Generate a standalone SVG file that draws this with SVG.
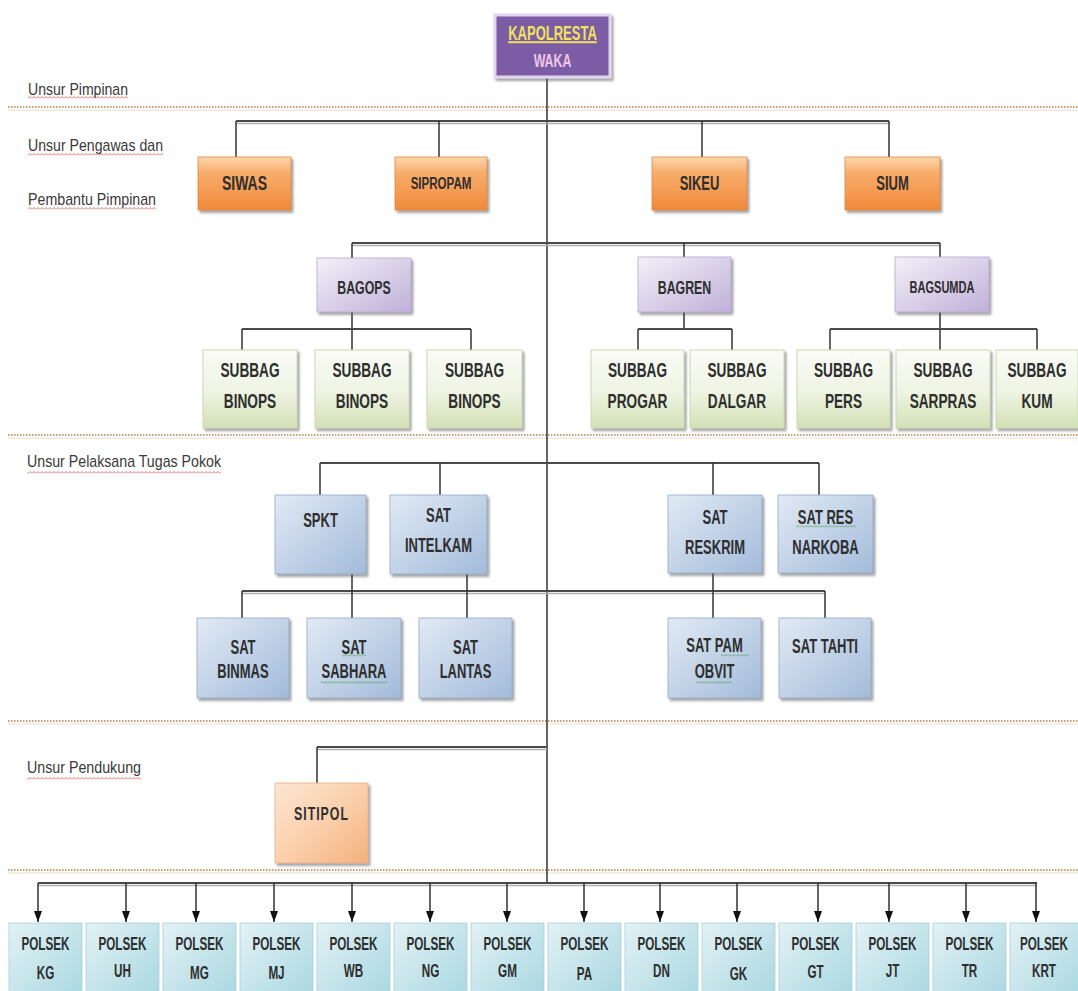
<svg xmlns="http://www.w3.org/2000/svg" width="1078" height="991" viewBox="0 0 1078 991">
<style>
.sep{stroke:#c99d70;stroke-width:2;stroke-dasharray:1.5 1.5;fill:none}
.sep2{stroke:#e9dccb;stroke-width:1;fill:none}
.bus{stroke:#4a4a4a;stroke-width:2.2;fill:none}
.bsh{stroke:#b0b0b0;stroke-width:1.5;fill:none}
.ln{stroke:#333;stroke-width:1.5;fill:none}
.lab{font-family:"Liberation Sans",Arial,sans-serif;font-size:17px;fill:#3a3a3a}
.n{font-family:"Liberation Sans",Arial,sans-serif;font-weight:bold;fill:#2e2e2e;text-anchor:middle}
.f21{font-size:21px}.f20{font-size:20px}.f19{font-size:19px}.f18{font-size:18px}.f17{font-size:17px}
.or{fill:url(#gOr);stroke:#e0893f;stroke-width:.8}
.lv{fill:url(#gLv);stroke:#b6a8cc;stroke-width:.8}
.gr{fill:url(#gGr);stroke:#cbd8b4;stroke-width:1}
.bl{fill:url(#gBl);stroke:#93abc9;stroke-width:.8}
.pc{fill:url(#gPc);stroke:#eab088;stroke-width:.8}
.cy{fill:url(#gCy);stroke:#a8d0da;stroke-width:.8}
</style>
<defs>
<filter id="sh" x="-10%" y="-10%" width="130%" height="130%"><feDropShadow dx="2" dy="2.5" stdDeviation="1.2" flood-color="#555" flood-opacity=".55"/></filter>
<linearGradient id="gOr" x1="0" y1="0" x2="0" y2="1"><stop offset="0" stop-color="#fcd6ad"/><stop offset=".3" stop-color="#f8ad6b"/><stop offset="1" stop-color="#f0893a"/></linearGradient>
<linearGradient id="gLv" x1="0" y1="0" x2="1" y2="1"><stop offset="0" stop-color="#f4f0f9"/><stop offset="1" stop-color="#bfb1d8"/></linearGradient>
<linearGradient id="gGr" x1="0" y1="0" x2="0" y2="1"><stop offset="0" stop-color="#fbfcf7"/><stop offset=".55" stop-color="#eef3e2"/><stop offset="1" stop-color="#d2e1b6"/></linearGradient>
<linearGradient id="gBl" x1="0" y1="0" x2="1" y2="1"><stop offset="0" stop-color="#e2eaf5"/><stop offset="1" stop-color="#a2bbda"/></linearGradient>
<linearGradient id="gPc" x1="0" y1="0" x2="1" y2="1"><stop offset="0" stop-color="#fde6d2"/><stop offset=".5" stop-color="#fbd0ac"/><stop offset="1" stop-color="#f4b07c"/></linearGradient>
<linearGradient id="gCy" x1="0" y1="0" x2="1" y2="1"><stop offset="0" stop-color="#e2f2f5"/><stop offset="1" stop-color="#a9d7e1"/></linearGradient>
<pattern id="wr" width="4" height="3" patternUnits="userSpaceOnUse"><path d="M0 2.5 L2 0.5 L4 2.5" stroke="#d24a4a" stroke-width=".8" fill="none"/></pattern>
<pattern id="wg" width="4" height="3" patternUnits="userSpaceOnUse"><path d="M0 2.5 L2 0.5 L4 2.5" stroke="#4f9f4f" stroke-width=".8" fill="none"/></pattern>
<marker id="ah" viewBox="0 0 11 8" refX="11" refY="4" markerWidth="11" markerHeight="8" markerUnits="userSpaceOnUse" orient="auto"><path d="M0 0 L11 4 L0 8 z" fill="#111"/></marker>
</defs>
<rect width="1078" height="991" fill="#fff"/>

<g id="separators">
<line class="sep" x1="8" y1="107" x2="1078" y2="107"/><line class="sep2" x1="8" y1="110" x2="1078" y2="110"/>
<line class="sep" x1="8" y1="435" x2="1078" y2="435"/><line class="sep2" x1="8" y1="438" x2="1078" y2="438"/>
<line class="sep" x1="8" y1="721" x2="1078" y2="721"/><line class="sep2" x1="8" y1="724" x2="1078" y2="724"/>
<line class="sep" x1="8" y1="870" x2="1078" y2="870"/><line class="sep2" x1="8" y1="873" x2="1078" y2="873"/>
</g>

<g id="section-labels">
<text class="lab" x="28" y="95" textLength="100" lengthAdjust="spacingAndGlyphs">Unsur Pimpinan</text>
<rect x="28" y="96" width="100" height="3" fill="url(#wr)"/>
<text class="lab" x="28" y="151" textLength="135" lengthAdjust="spacingAndGlyphs">Unsur Pengawas dan</text>
<rect x="28" y="153" width="135" height="3" fill="url(#wr)"/>
<text class="lab" x="28" y="205" textLength="128" lengthAdjust="spacingAndGlyphs">Pembantu Pimpinan</text>
<rect x="28" y="207" width="128" height="3" fill="url(#wr)"/>
<text class="lab" x="27" y="467" textLength="194" lengthAdjust="spacingAndGlyphs">Unsur Pelaksana Tugas Pokok</text>
<rect x="27" y="471" width="194" height="3" fill="url(#wr)"/>
<text class="lab" x="27" y="773" textLength="114" lengthAdjust="spacingAndGlyphs">Unsur Pendukung</text>
<rect x="27" y="777" width="114" height="3" fill="url(#wr)"/>
</g>

<g id="connectors">
<line class="ln" x1="547" y1="77" x2="547" y2="883"/>
<line class="bsh" x1="236" y1="123.5" x2="889" y2="123.5"/><line class="bus" x1="236" y1="121" x2="889" y2="121"/>
<line class="ln" x1="236" y1="121" x2="236" y2="157"/><line class="ln" x1="439" y1="121" x2="439" y2="157"/>
<line class="ln" x1="702" y1="121" x2="702" y2="157"/><line class="ln" x1="889" y1="121" x2="889" y2="157"/>
<line class="bsh" x1="352" y1="245.5" x2="940" y2="245.5"/><line class="bus" x1="352" y1="243" x2="940" y2="243"/>
<line class="ln" x1="352" y1="243" x2="352" y2="258"/><line class="ln" x1="684" y1="243" x2="684" y2="257"/><line class="ln" x1="940" y1="243" x2="940" y2="257"/>
<line class="ln" x1="352" y1="312" x2="352" y2="350"/>
<line class="bus" x1="242" y1="329" x2="471" y2="329"/>
<line class="ln" x1="242" y1="329" x2="242" y2="350"/><line class="ln" x1="471" y1="329" x2="471" y2="350"/>
<line class="ln" x1="684" y1="312" x2="684" y2="329"/>
<line class="bus" x1="638" y1="329" x2="732" y2="329"/>
<line class="ln" x1="638" y1="329" x2="638" y2="350"/><line class="ln" x1="732" y1="329" x2="732" y2="350"/>
<line class="ln" x1="940" y1="312" x2="940" y2="350"/>
<line class="bus" x1="830" y1="329" x2="1037" y2="329"/>
<line class="ln" x1="830" y1="329" x2="830" y2="350"/><line class="ln" x1="1037" y1="329" x2="1037" y2="350"/>
<line class="bus" x1="320" y1="463" x2="819" y2="463"/>
<line class="ln" x1="320" y1="463" x2="320" y2="495"/><line class="ln" x1="440" y1="463" x2="440" y2="495"/>
<line class="ln" x1="713" y1="463" x2="713" y2="495"/><line class="ln" x1="819" y1="463" x2="819" y2="495"/>
<line class="bsh" x1="242" y1="593.5" x2="825" y2="593.5"/><line class="bus" x1="242" y1="591" x2="825" y2="591"/>
<line class="ln" x1="352" y1="574" x2="352" y2="618"/><line class="ln" x1="467" y1="574" x2="467" y2="618"/>
<line class="ln" x1="713" y1="573" x2="713" y2="618"/>
<line class="ln" x1="242" y1="591" x2="242" y2="618"/><line class="ln" x1="825" y1="591" x2="825" y2="618"/>
<line class="bsh" x1="317" y1="749.5" x2="547" y2="749.5"/><line class="bus" x1="317" y1="747" x2="547" y2="747"/>
<line class="ln" x1="317" y1="747" x2="317" y2="783"/>
<line class="bsh" x1="38" y1="885.5" x2="1037" y2="885.5"/><line class="bus" x1="38" y1="883" x2="1037" y2="883"/>
<g class="ln" marker-end="url(#ah)">
<line x1="38" y1="883" x2="38" y2="922"/><line x1="126" y1="883" x2="126" y2="922"/>
<line x1="196" y1="883" x2="196" y2="922"/><line x1="274" y1="883" x2="274" y2="922"/>
<line x1="352" y1="883" x2="352" y2="922"/><line x1="430" y1="883" x2="430" y2="922"/>
<line x1="507" y1="883" x2="507" y2="922"/><line x1="584" y1="883" x2="584" y2="922"/>
<line x1="660" y1="883" x2="660" y2="922"/><line x1="737" y1="883" x2="737" y2="922"/>
<line x1="818" y1="883" x2="818" y2="922"/><line x1="889" y1="883" x2="889" y2="922"/>
<line x1="966" y1="883" x2="966" y2="922"/><line x1="1036" y1="883" x2="1036" y2="922"/>
</g>
</g>

<g id="n-kapolresta">
<rect x="495" y="15" width="115" height="62" fill="#7b5ca5" stroke="#e2d6ee" stroke-width="3" filter="url(#sh)"/>
<text class="n f20" transform="translate(552.5 33) scale(.65 1)" y="7" style="fill:#f1e25a;text-decoration:underline">KAPOLRESTA</text>
<text class="n f19" transform="translate(552.5 60) scale(.65 1)" y="7" style="fill:#efc6e6">WAKA</text>
</g>

<g id="n-siwas"><rect class="or" x="198" y="157" width="93" height="53" filter="url(#sh)"/><text class="n f20" transform="translate(244.5 183) scale(.7 1)" y="7">SIWAS</text></g>
<g id="n-sipropam"><rect class="or" x="395" y="157" width="92" height="53" filter="url(#sh)"/><text class="n f17" transform="translate(441 183) scale(.68 1)" y="6">SIPROPAM</text></g>
<g id="n-sikeu"><rect class="or" x="652" y="157" width="95" height="53" filter="url(#sh)"/><text class="n f20" transform="translate(699.5 183) scale(.65 1)" y="7">SIKEU</text></g>
<g id="n-sium"><rect class="or" x="845" y="157" width="95" height="53" filter="url(#sh)"/><text class="n f20" transform="translate(892.5 183) scale(.65 1)" y="7">SIUM</text></g>

<g id="n-bagops"><rect class="lv" x="317" y="258" width="94" height="54" filter="url(#sh)"/><text class="n f19" transform="translate(364 287) scale(.65 1)" y="7">BAGOPS</text></g>
<g id="n-bagren"><rect class="lv" x="638" y="257" width="93" height="55" filter="url(#sh)"/><text class="n f19" transform="translate(684.5 287) scale(.65 1)" y="7">BAGREN</text></g>
<g id="n-bagsumda"><rect class="lv" x="895" y="257" width="94" height="55" filter="url(#sh)"/><text class="n f17" transform="translate(942 287) scale(.65 1)" y="6">BAGSUMDA</text></g>

<g id="n-subbag-binops-1"><rect class="gr" x="203" y="350" width="94" height="78" filter="url(#sh)"/><text class="n f21" transform="translate(250 369) scale(.65 1)" y="7.5">SUBBAG</text><text class="n f21" transform="translate(250 400) scale(.65 1)" y="7.5">BINOPS</text></g>
<g id="n-subbag-binops-2"><rect class="gr" x="315" y="350" width="94" height="78" filter="url(#sh)"/><text class="n f21" transform="translate(362 369) scale(.65 1)" y="7.5">SUBBAG</text><text class="n f21" transform="translate(362 400) scale(.65 1)" y="7.5">BINOPS</text></g>
<g id="n-subbag-binops-3"><rect class="gr" x="427" y="350" width="95" height="78" filter="url(#sh)"/><text class="n f21" transform="translate(474.5 369) scale(.65 1)" y="7.5">SUBBAG</text><text class="n f21" transform="translate(474.5 400) scale(.65 1)" y="7.5">BINOPS</text></g>
<g id="n-subbag-progar"><rect class="gr" x="591" y="350" width="93" height="78" filter="url(#sh)"/><text class="n f21" transform="translate(637.5 369) scale(.65 1)" y="7.5">SUBBAG</text><text class="n f21" transform="translate(637.5 400) scale(.65 1)" y="7.5">PROGAR</text></g>
<g id="n-subbag-dalgar"><rect class="gr" x="690" y="350" width="94" height="78" filter="url(#sh)"/><text class="n f21" transform="translate(737 369) scale(.65 1)" y="7.5">SUBBAG</text><text class="n f21" transform="translate(737 400) scale(.65 1)" y="7.5">DALGAR</text></g>
<g id="n-subbag-pers"><rect class="gr" x="797" y="350" width="93" height="78" filter="url(#sh)"/><text class="n f21" transform="translate(843.5 369) scale(.65 1)" y="7.5">SUBBAG</text><text class="n f21" transform="translate(843.5 400) scale(.65 1)" y="7.5">PERS</text></g>
<g id="n-subbag-sarpras"><rect class="gr" x="896" y="350" width="94" height="78" filter="url(#sh)"/><text class="n f21" transform="translate(943 369) scale(.65 1)" y="7.5">SUBBAG</text><text class="n f21" transform="translate(943 400) scale(.65 1)" y="7.5">SARPRAS</text></g>
<g id="n-subbag-kum"><rect class="gr" x="996" y="350" width="82" height="78" filter="url(#sh)"/><text class="n f21" transform="translate(1037 369) scale(.65 1)" y="7.5">SUBBAG</text><text class="n f21" transform="translate(1037 400) scale(.65 1)" y="7.5">KUM</text></g>

<g id="n-spkt"><rect class="bl" x="275" y="495" width="91" height="79" filter="url(#sh)"/><text class="n f20" transform="translate(320.5 520) scale(.65 1)" y="7">SPKT</text></g>
<g id="n-sat-intelkam"><rect class="bl" x="390" y="495" width="97" height="79" filter="url(#sh)"/><text class="n f20" transform="translate(438.5 515) scale(.65 1)" y="7">SAT</text><text class="n f20" transform="translate(438.5 545) scale(.65 1)" y="7">INTELKAM</text></g>
<g id="n-sat-reskrim"><rect class="bl" x="668" y="495" width="94" height="78" filter="url(#sh)"/><text class="n f20" transform="translate(715 517) scale(.65 1)" y="7">SAT</text><text class="n f20" transform="translate(715 547) scale(.65 1)" y="7">RESKRIM</text></g>
<g id="n-sat-res-narkoba"><rect class="bl" x="778" y="495" width="95" height="78" filter="url(#sh)"/><text class="n f20" transform="translate(825.5 517) scale(.65 1)" y="7">SAT RES</text><rect x="796" y="525" width="60" height="3" fill="url(#wg)"/><text class="n f20" transform="translate(825.5 547) scale(.65 1)" y="7">NARKOBA</text></g>

<g id="n-sat-binmas"><rect class="bl" x="197" y="618" width="92" height="80" filter="url(#sh)"/><text class="n f20" transform="translate(243 647) scale(.65 1)" y="7">SAT</text><text class="n f20" transform="translate(243 671) scale(.65 1)" y="7">BINMAS</text></g>
<g id="n-sat-sabhara"><rect class="bl" x="307" y="618" width="94" height="80" filter="url(#sh)"/><text class="n f20" transform="translate(354 647) scale(.65 1)" y="7">SAT</text><rect x="342" y="654" width="24" height="3" fill="url(#wg)"/><text class="n f20" transform="translate(354 671) scale(.65 1)" y="7">SABHARA</text><rect x="321" y="681" width="66" height="3" fill="url(#wg)"/></g>
<g id="n-sat-lantas"><rect class="bl" x="419" y="618" width="93" height="80" filter="url(#sh)"/><text class="n f20" transform="translate(465.5 647) scale(.65 1)" y="7">SAT</text><text class="n f20" transform="translate(465.5 671) scale(.65 1)" y="7">LANTAS</text></g>
<g id="n-sat-pam-obvit"><rect class="bl" x="668" y="618" width="93" height="80" filter="url(#sh)"/><text class="n f20" transform="translate(714.5 645) scale(.65 1)" y="7">SAT PAM</text><rect x="721" y="654" width="28" height="3" fill="url(#wg)"/><text class="n f20" transform="translate(714.5 671) scale(.65 1)" y="7">OBVIT</text><rect x="696" y="681" width="36" height="3" fill="url(#wg)"/></g>
<g id="n-sat-tahti"><rect class="bl" x="779" y="618" width="92" height="80" filter="url(#sh)"/><text class="n f20" transform="translate(825 646) scale(.65 1)" y="7">SAT TAHTI</text></g>

<g id="n-sitipol"><rect class="pc" x="275" y="783" width="93" height="80" filter="url(#sh)"/><text class="n f19" transform="translate(321.5 813) scale(.65 1)" y="7" letter-spacing="1.5">SITIPOL</text></g>

<g id="polsek">
<g id="n-polsek-kg"><rect class="cy" x="9" y="923" width="73" height="75"/><text class="n f18" transform="translate(45.5 943) scale(.65 1)" y="6.5">POLSEK</text><text class="n f18" transform="translate(45.5 972) scale(.65 1)" y="6.5">KG</text></g>
<g id="n-polsek-uh"><rect class="cy" x="86" y="923" width="73" height="75"/><text class="n f18" transform="translate(122.5 943) scale(.65 1)" y="6.5">POLSEK</text><text class="n f18" transform="translate(122.5 970) scale(.65 1)" y="6.5">UH</text></g>
<g id="n-polsek-mg"><rect class="cy" x="163" y="923" width="73" height="75"/><text class="n f18" transform="translate(199.5 943) scale(.65 1)" y="6.5">POLSEK</text><text class="n f18" transform="translate(199.5 972) scale(.65 1)" y="6.5">MG</text></g>
<g id="n-polsek-mj"><rect class="cy" x="240" y="923" width="73" height="75"/><text class="n f18" transform="translate(276.5 943) scale(.65 1)" y="6.5">POLSEK</text><text class="n f18" transform="translate(276.5 972) scale(.65 1)" y="6.5">MJ</text></g>
<g id="n-polsek-wb"><rect class="cy" x="317" y="923" width="73" height="75"/><text class="n f18" transform="translate(353.5 943) scale(.65 1)" y="6.5">POLSEK</text><text class="n f18" transform="translate(353.5 970) scale(.65 1)" y="6.5">WB</text></g>
<g id="n-polsek-ng"><rect class="cy" x="394" y="923" width="73" height="75"/><text class="n f18" transform="translate(430.5 943) scale(.65 1)" y="6.5">POLSEK</text><text class="n f18" transform="translate(430.5 970) scale(.65 1)" y="6.5">NG</text></g>
<g id="n-polsek-gm"><rect class="cy" x="471" y="923" width="73" height="75"/><text class="n f18" transform="translate(507.5 943) scale(.65 1)" y="6.5">POLSEK</text><text class="n f18" transform="translate(507.5 970) scale(.65 1)" y="6.5">GM</text></g>
<g id="n-polsek-pa"><rect class="cy" x="548" y="923" width="73" height="75"/><text class="n f18" transform="translate(584.5 943) scale(.65 1)" y="6.5">POLSEK</text><text class="n f18" transform="translate(584.5 973) scale(.65 1)" y="6.5">PA</text></g>
<g id="n-polsek-dn"><rect class="cy" x="625" y="923" width="73" height="75"/><text class="n f18" transform="translate(661.5 943) scale(.65 1)" y="6.5">POLSEK</text><text class="n f18" transform="translate(661.5 970) scale(.65 1)" y="6.5">DN</text></g>
<g id="n-polsek-gk"><rect class="cy" x="702" y="923" width="73" height="75"/><text class="n f18" transform="translate(738.5 943) scale(.65 1)" y="6.5">POLSEK</text><text class="n f18" transform="translate(738.5 973) scale(.65 1)" y="6.5">GK</text></g>
<g id="n-polsek-gt"><rect class="cy" x="779" y="923" width="73" height="75"/><text class="n f18" transform="translate(815.5 943) scale(.65 1)" y="6.5">POLSEK</text><text class="n f18" transform="translate(815.5 971) scale(.65 1)" y="6.5">GT</text></g>
<g id="n-polsek-jt"><rect class="cy" x="856" y="923" width="73" height="75"/><text class="n f18" transform="translate(892.5 943) scale(.65 1)" y="6.5">POLSEK</text><text class="n f18" transform="translate(892.5 970) scale(.65 1)" y="6.5">JT</text></g>
<g id="n-polsek-tr"><rect class="cy" x="933" y="923" width="73" height="75"/><text class="n f18" transform="translate(969.5 943) scale(.65 1)" y="6.5">POLSEK</text><text class="n f18" transform="translate(969.5 970) scale(.65 1)" y="6.5">TR</text></g>
<g id="n-polsek-krt"><rect class="cy" x="1010" y="923" width="70" height="75"/><text class="n f18" transform="translate(1044 943) scale(.65 1)" y="6.5">POLSEK</text><text class="n f18" transform="translate(1044 970) scale(.65 1)" y="6.5">KRT</text></g>
</g>
</svg>
